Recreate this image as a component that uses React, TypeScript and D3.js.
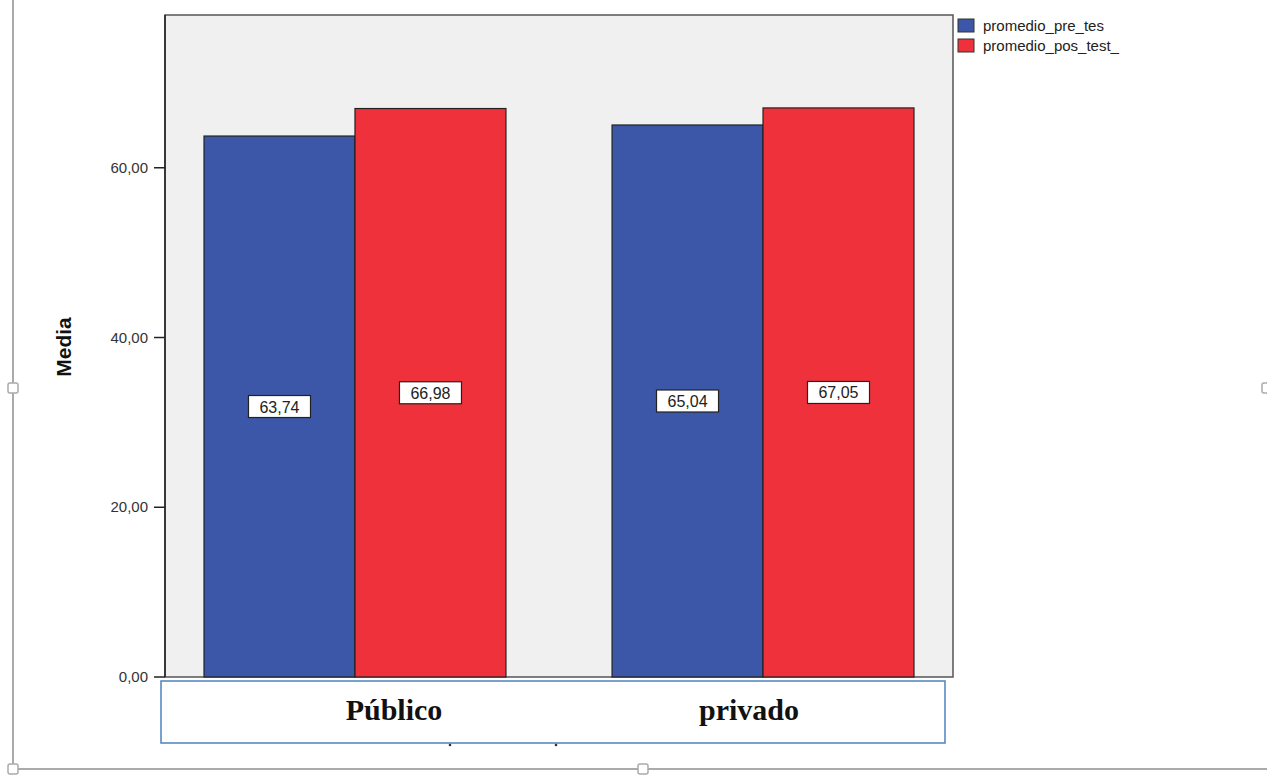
import React from "react";
import * as d3 from "d3";

const categories = ["Público", "privado"];
const seriesNames = ["promedio_pre_tes", "promedio_pos_test_"];
const preTest = [63.74, 65.04];
const posTest = [66.98, 67.05];
const yTicks = [0, 20, 40, 60];
const colors = ["#3d57a8", "#ef313b"];

export default function App() {
  const W = 1267, H = 775;
  const left = 165, right = 953, top = 15, bottom = 677;
  const y = d3.scaleLinear().domain([0, 78]).range([bottom, top]);
  const x0 = d3.scaleBand().domain(categories).range([left, right]).paddingInner(0.26).paddingOuter(0.0956);
  const x1 = d3.scaleBand().domain(seriesNames).range([0, x0.bandwidth()]);
  const series = [preTest, posTest];
  const fmt = (v: number) => v.toFixed(2).replace(".", ",");
  const labelX = [394, 749];

  return (
    <svg width={W} height={H} style={{ position: "absolute", left: 0, top: 0 }} fontFamily="Arial, 'Liberation Sans', sans-serif">
      <rect x={0} y={0} width={W} height={H} fill="#fff" />
      {/* document frame */}
      <line x1={13} y1={0} x2={13} y2={769} stroke="#aaa" strokeWidth={2} />
      <line x1={13} y1={769} x2={W} y2={769} stroke="#aaa" strokeWidth={2} />
      {[[13, 388], [13, 769], [643, 769], [1267, 388]].map(([cx, cy], i) => (
        <rect key={i} x={cx - 5} y={cy - 5} width={10} height={10} rx={2} fill="#fff" stroke="#aaa" strokeWidth={1.5} />
      ))}
      {/* plot background */}
      <rect x={left} y={top} width={right - left} height={bottom - top} fill="#f0f0f0" stroke="#555" strokeWidth={1.5} />
      {/* bars */}
      {categories.map((c, ci) =>
        series.map((s, si) => {
          const bx = (x0(c) as number) + (x1(seriesNames[si]) as number);
          const bw = x1.bandwidth();
          const by = y(s[ci]);
          return (
            <rect key={c + si} x={bx} y={by} width={bw} height={bottom - by} fill={colors[si]} stroke="#222" strokeWidth={1.2} />
          );
        })
      )}
      {/* value labels */}
      {categories.map((c, ci) =>
        series.map((s, si) => {
          const bx = (x0(c) as number) + (x1(seriesNames[si]) as number) + x1.bandwidth() / 2;
          const my = (y(s[ci]) + bottom) / 2;
          return (
            <g key={"l" + c + si}>
              <rect x={bx - 31} y={my - 11} width={62} height={22} fill="#fff" stroke="#222" strokeWidth={1.2} />
              <text x={bx} y={my + 6} textAnchor="middle" fontSize={16} fill="#222">{fmt(s[ci])}</text>
            </g>
          );
        })
      )}
      {/* y axis */}
      <line x1={left} y1={top} x2={left} y2={bottom} stroke="#222" strokeWidth={1.5} />
      {yTicks.map((t) => (
        <g key={t}>
          <line x1={left - 11} x2={left} y1={y(t)} y2={y(t)} stroke="#222" strokeWidth={1.5} />
          <text x={left - 17} y={y(t) + 5} textAnchor="end" fontSize={15} fill="#333">{fmt(t)}</text>
        </g>
      ))}
      <text transform={`translate(71,347) rotate(-90)`} textAnchor="middle" fontSize={21} fontWeight="bold" fill="#111">Media</text>
      {/* category box */}
      <rect x={161} y={681} width={784} height={62} fill="#fff" stroke="#4f81bd" strokeWidth={1.5} />
      <circle cx={450} cy={745} r={1.3} fill="#333" />
      <circle cx={556} cy={745} r={1.3} fill="#333" />
      {categories.map((c, i) => (
        <text key={c} x={labelX[i]} y={720} textAnchor="middle" fontSize={30} fontWeight="bold" fontFamily="'Liberation Serif', 'Times New Roman', serif" fill="#111">{c}</text>
      ))}
      {/* legend */}
      {seriesNames.map((n, i) => (
        <g key={n}>
          <rect x={958} y={19 + i * 20} width={16} height={13} fill={colors[i]} stroke="#333" strokeWidth={1} />
          <text x={983} y={31 + i * 20} fontSize={15} fill="#222">{n}</text>
        </g>
      ))}
    </svg>
  );
}
